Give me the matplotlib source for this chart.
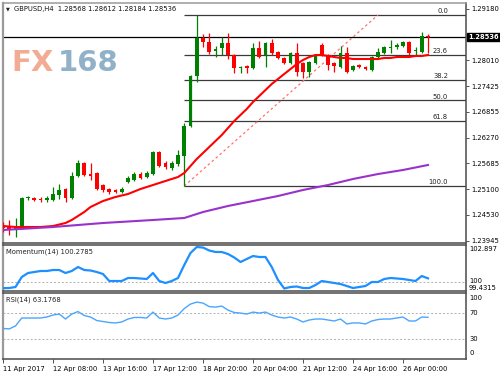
import matplotlib
matplotlib.use('Agg')
import matplotlib.pyplot as plt
from matplotlib.transforms import blended_transform_factory

# ---------------- data ----------------
opens = [1.24296, 1.24251, 1.24183, 1.24228, 1.24894, 1.24905, 1.24883, 1.24860, 1.24860, 1.24973,
         1.25108, 1.24905, 1.25401, 1.25695, 1.25446, 1.25469, 1.25198, 1.25108, 1.25086, 1.25040,
         1.25266, 1.25311, 1.25446, 1.25379, 1.25446, 1.25943, 1.25695, 1.25582, 1.25672, 1.25853,
         1.26529, 1.27657, 1.28515, 1.28424, 1.28221, 1.28289, 1.28402, 1.28131, 1.27838, 1.27883,
         1.27838, 1.28289, 1.28131, 1.28402, 1.28199, 1.28064, 1.27951, 1.28176, 1.27951, 1.27748,
         1.27951, 1.28357, 1.28131, 1.27951, 1.27860, 1.28176, 1.27793, 1.27906, 1.27860, 1.27793,
         1.28086, 1.28176, 1.28289, 1.28312, 1.28334, 1.28424, 1.28221, 1.28199, 1.28568]
highs = [1.24363, 1.24409, 1.24454, 1.24928, 1.24950, 1.24928, 1.24928, 1.24950, 1.25153, 1.25221,
         1.25131, 1.25492, 1.25762, 1.25717, 1.25695, 1.25492, 1.25221, 1.25131, 1.25108, 1.25153,
         1.25401, 1.25492, 1.25492, 1.25514, 1.25965, 1.25965, 1.25740, 1.25740, 1.25988, 1.26597,
         1.27680, 1.29034, 1.28605, 1.28628, 1.28334, 1.28537, 1.28628, 1.28154, 1.27883, 1.27906,
         1.28402, 1.28447, 1.28424, 1.28492, 1.28221, 1.28086, 1.28199, 1.28402, 1.27973, 1.27996,
         1.28154, 1.28402, 1.28154, 1.27973, 1.28334, 1.28312, 1.27906, 1.27928, 1.27883, 1.28109,
         1.28289, 1.28334, 1.28470, 1.28402, 1.28447, 1.28447, 1.28312, 1.28650, 1.28612]
lows = [1.24138, 1.24070, 1.24025, 1.24206, 1.24860, 1.24837, 1.24815, 1.24815, 1.24837, 1.24883,
        1.24815, 1.24883, 1.25379, 1.25401, 1.25311, 1.25086, 1.25040, 1.24995, 1.25018, 1.25018,
        1.25244, 1.25289, 1.25334, 1.25356, 1.25424, 1.25604, 1.25559, 1.25537, 1.25627, 1.25176,
        1.26507, 1.27522, 1.28312, 1.28154, 1.28086, 1.28131, 1.28041, 1.27725, 1.27725, 1.27725,
        1.27815, 1.28064, 1.27860, 1.28131, 1.28041, 1.27928, 1.27928, 1.27657, 1.27612, 1.27635,
        1.27928, 1.28109, 1.27793, 1.27748, 1.27838, 1.27725, 1.27770, 1.27838, 1.27793, 1.27770,
        1.28064, 1.28154, 1.28176, 1.28267, 1.28312, 1.28131, 1.28131, 1.28176, 1.28184]
closes = [1.24228, 1.24183, 1.24273, 1.24905, 1.24917, 1.24860, 1.24849, 1.24894, 1.24995, 1.25086,
          1.24905, 1.25401, 1.25695, 1.25424, 1.25401, 1.25108, 1.25086, 1.25040, 1.25040, 1.25097,
          1.25356, 1.25446, 1.25356, 1.25469, 1.25943, 1.25627, 1.25604, 1.25695, 1.25875, 1.26529,
          1.27657, 1.28515, 1.28424, 1.28199, 1.28267, 1.28402, 1.28131, 1.27838, 1.27860, 1.27838,
          1.28289, 1.28086, 1.28402, 1.28176, 1.28064, 1.27951, 1.28176, 1.27748, 1.27748, 1.27973,
          1.28131, 1.28131, 1.27906, 1.27883, 1.28176, 1.27748, 1.27883, 1.27860, 1.27815, 1.28086,
          1.28199, 1.28312, 1.28312, 1.28357, 1.28424, 1.28176, 1.28244, 1.28566, 1.28536]
ma_fast = [1.24273, 1.24262, 1.24251, 1.24251, 1.24251, 1.24251, 1.24251, 1.24262, 1.24273, 1.24307,
           1.24341, 1.24409, 1.24499, 1.24589, 1.24702, 1.24770, 1.24837, 1.24883, 1.24928, 1.24962,
           1.24995, 1.25052, 1.25108, 1.25153, 1.25198, 1.25244, 1.25289, 1.25334, 1.25379, 1.25469,
           1.25627, 1.25785, 1.25920, 1.26055, 1.26191, 1.26326, 1.26484, 1.26642, 1.26778, 1.26913,
           1.27071, 1.27206, 1.27342, 1.27477, 1.27590, 1.27703, 1.27815, 1.27928, 1.28018, 1.28086,
           1.28131, 1.28131, 1.28109, 1.28086, 1.28064, 1.28064, 1.28041, 1.28041, 1.28041, 1.28041,
           1.28041, 1.28064, 1.28064, 1.28086, 1.28086, 1.28086, 1.28109, 1.28109, 1.28131]
ma_slow_idx = [0, 8, 16, 24, 29, 32, 36, 40, 44, 48, 52, 56, 60, 64, 68]
ma_slow = [1.24183, 1.24251, 1.24341, 1.24409, 1.24454, 1.24589, 1.24725, 1.24837,
           1.24950, 1.25086, 1.25198, 1.25334, 1.25446, 1.25537, 1.25650]
momentum = [99.46, 99.473, 99.557, 100.392, 100.726, 100.809, 100.893, 100.893, 100.976, 100.976,
            100.726, 100.893, 101.227, 100.976, 100.935, 100.809, 100.642, 100.058, 100.058, 100.058,
            100.308, 100.308, 100.267, 100.225, 100.726, 100.058, 99.891, 100.058, 100.308, 101.394,
            102.396, 102.897, 102.85, 102.605, 102.480, 102.480, 102.313, 102.020, 101.645, 101.895,
            102.145, 102.062, 102.062, 101.227, 100.141, 99.4315, 99.557, 99.599, 99.473, 99.473,
            99.724, 100.058, 99.974, 99.891, 99.807, 99.640, 99.473, 99.557, 99.640, 99.974,
            99.974, 100.225, 100.308, 100.267, 100.225, 100.141, 100.058, 100.475, 100.2785]
rsi = [46.3, 45.6, 50.1, 62.1, 62.1, 62.1, 62.1, 63.6, 66.6, 68.1,
       60.6, 68.1, 71.9, 65.9, 63.6, 58.3, 56.8, 55.3, 54.6, 56.1,
       60.6, 62.9, 62.9, 62.1, 71.1, 62.1, 60.6, 62.1, 66.6, 76.4,
       83.2, 86.2, 84.7, 79.4, 78.6, 80.2, 74.1, 70.4, 69.6, 68.1,
       71.1, 69.6, 71.1, 66.6, 63.6, 62.1, 63.6, 60.6, 56.1, 59.1,
       60.6, 60.6, 59.1, 57.6, 60.6, 53.1, 54.6, 54.6, 53.1, 57.6,
       59.8, 60.6, 60.6, 62.1, 63.6, 57.6, 57.6, 63.6, 63.1768]
date_idx = [0, 8, 16, 24, 32, 40, 48, 56, 64]
date_labels = ['11 Apr 2017', '12 Apr 08:00', '13 Apr 16:00', '17 Apr 12:00', '18 Apr 20:00',
               '20 Apr 04:00', '21 Apr 12:00', '24 Apr 16:00', '26 Apr 00:00']
price_ticks = [1.29180, 1.28010, 1.27425, 1.26855, 1.26270, 1.25685, 1.25100, 1.24530, 1.23945]
price_labels = ['1.29180', '1.28010', '1.27425', '1.26855', '1.26270', '1.25685', '1.25100', '1.24530', '1.23945']
bid_price = 1.28536
fib_ratios = [0.0, 23.6, 38.2, 50.0, 61.8, 100.0]
fib_labels = ['0.0', '23.6', '38.2', '50.0', '61.8', '100.0']
fib_high = 1.29034
fib_low = 1.25176
fib_start_bar = 29
fib_end_bar = 60
title_text = 'GBPUSD,H4  1.28568 1.28612 1.28184 1.28536'
mom_title = 'Momentum(14) 100.2785'
rsi_title = 'RSI(14) 63.1768'

# ---------------- layout ----------------
W, H = 500, 375
FONT = 'DejaVu Sans'
FS = 4.9
plt.rcParams['font.family'] = [FONT]

fig = plt.figure(figsize=(5, 3.75), dpi=100)
fig.patch.set_facecolor('white')


def rect(l, t, r, b):
    return [l / W, 1 - b / H, (r - l) / W, (b - t) / H]


ax1 = fig.add_axes(rect(3, 3, 466, 243))
ax2 = fig.add_axes(rect(3, 245, 466, 291), sharex=ax1)
ax3 = fig.add_axes(rect(3, 293, 466, 359), sharex=ax1)

n = len(opens)
idx = list(range(n))
x_max = (466 - 3) / 6.25
ax1.set_xlim(0, x_max)

for ax in (ax1, ax2, ax3):
    for s in ('left', 'top', 'right', 'bottom'):
        ax.spines[s].set_color('#4a4a4a')
        ax.spines[s].set_linewidth(1.1)
    ax.spines['left'].set_color('#9a9a9a')
    ax.spines['left'].set_linewidth(1.6)
    ax.set_facecolor('white')
    ax.yaxis.tick_right()
    ax.tick_params(axis='y', which='both', direction='out', length=2, width=0.6,
                   pad=1.5, labelsize=FS, colors='#333333', labelcolor='black')
    ax.tick_params(axis='x', which='both', length=0, labelbottom=False)

ax1.spines['top'].set_color('#9a9a9a')

# ---------------- main panel ----------------
ylo = 1.29372 - 0.0002256 * 243
yhi = 1.29372 - 0.0002256 * 3
ax1.set_ylim(ylo, yhi)
ax1.set_yticks(price_ticks)
ax1.set_yticklabels(price_labels)

up = '#008000'
dn = '#ff0000'
colors = [up if c >= o else dn for o, c in zip(opens, closes)]
ax1.vlines(idx, lows, highs, colors=colors, linewidth=0.9, zorder=3)
bottoms = [min(o, c) for o, c in zip(opens, closes)]
heights = [max(abs(c - o), 0.00018) for o, c in zip(opens, closes)]
ax1.bar(idx, heights, bottom=bottoms, width=0.62, color=colors, linewidth=0, zorder=4)

ax1.plot(idx, ma_fast, color='#ff0000', linewidth=1.5, zorder=5)
ax1.plot(ma_slow_idx, ma_slow, color='#9932cc', linewidth=1.5, zorder=5)

# Fibonacci retracement
rng = fib_high - fib_low
lx = (448 - 3) / 6.25
for r, lab in zip(fib_ratios, fib_labels):
    lvl = fib_high - r / 100.0 * rng
    ax1.hlines(lvl, fib_start_bar, x_max, colors='#3a3a3a', linewidth=0.9, zorder=2)
    ax1.text(lx, lvl + 0.00022, lab, ha='right', va='bottom', fontsize=FS, color='#222222', zorder=6)
ax1.plot([fib_start_bar, fib_end_bar], [fib_low, fib_high], color='#ff7070',
         linewidth=0.9, linestyle=(0, (2, 2.2)), zorder=2)

# bid line
ax1.axhline(bid_price, color='black', linewidth=0.9, zorder=2)
tr = blended_transform_factory(ax1.transAxes, ax1.transData)
ax1.text(1.004, bid_price, '1.28536', transform=tr, ha='left', va='center', fontsize=FS,
         color='white', fontweight='bold', zorder=10, clip_on=False,
         bbox=dict(boxstyle='square,pad=0.18', facecolor='black', edgecolor='black'))

# title
fig.text(6 / W, 1 - 8.5 / H, '\u25bc', fontsize=3.6, ha='left', va='center', color='#222222')
fig.text(14 / W, 1 - 8.5 / H, title_text, fontsize=FS, ha='left', va='center', color='#111111')

# watermark
fig.text(11 / W, 1 - 71 / H, 'FX', fontsize=21, fontweight='bold', color='#f2a88e',
         ha='left', va='baseline', alpha=0.95)
fig.text(58 / W, 1 - 71 / H, '168', fontsize=21, fontweight='bold', color='#8badc6',
         ha='left', va='baseline', alpha=0.95)

# ---------------- momentum ----------------
ax2.set_ylim(99.223, 103.064)
ax2.set_yticks([])
ax2.plot(idx, momentum, color='#1e8fff', linewidth=1.6, zorder=3)
ax2.axhline(100, color='#b0b0b0', linewidth=0.7, linestyle=(0, (2, 2)), zorder=1)
ax2.text(3 / 463, 0.85, mom_title, transform=ax2.transAxes, fontsize=FS, ha='left', va='center',
         color='#222222')
for lab, ypix in (('102.897', 249), ('100', 281), ('99.4315', 287.5)):
    fig.text(469 / W, 1 - ypix / H, lab, fontsize=FS, ha='left', va='center', color='black')

# ---------------- RSI ----------------
ax3.set_ylim(0, 100)
ax3.set_yticks([])
ax3.plot(idx, rsi, color='#4aa5ff', linewidth=1.0, zorder=3)
ax3.axhline(70, color='#b0b0b0', linewidth=0.7, linestyle=(0, (2, 2)), zorder=1)
ax3.axhline(30, color='#b0b0b0', linewidth=0.7, linestyle=(0, (2, 2)), zorder=1)
ax3.text(3 / 463, 0.894, rsi_title, transform=ax3.transAxes, fontsize=FS, ha='left', va='center',
         color='#222222')
for lab, ypix in (('100', 298), ('70', 313), ('30', 339), ('0', 353)):
    fig.text(469 / W, 1 - ypix / H, lab, fontsize=FS, ha='left', va='center', color='black')

ax3.set_xticks(date_idx)
ax3.set_xticklabels(date_labels)
ax3.tick_params(axis='x', length=3, width=0.6, direction='out', labelbottom=True,
                labelsize=FS, pad=2, colors='#333333', labelcolor='black')
for t in ax3.get_xticklabels():
    t.set_horizontalalignment('left')

fig.savefig('out.png', dpi=100, facecolor='white')
